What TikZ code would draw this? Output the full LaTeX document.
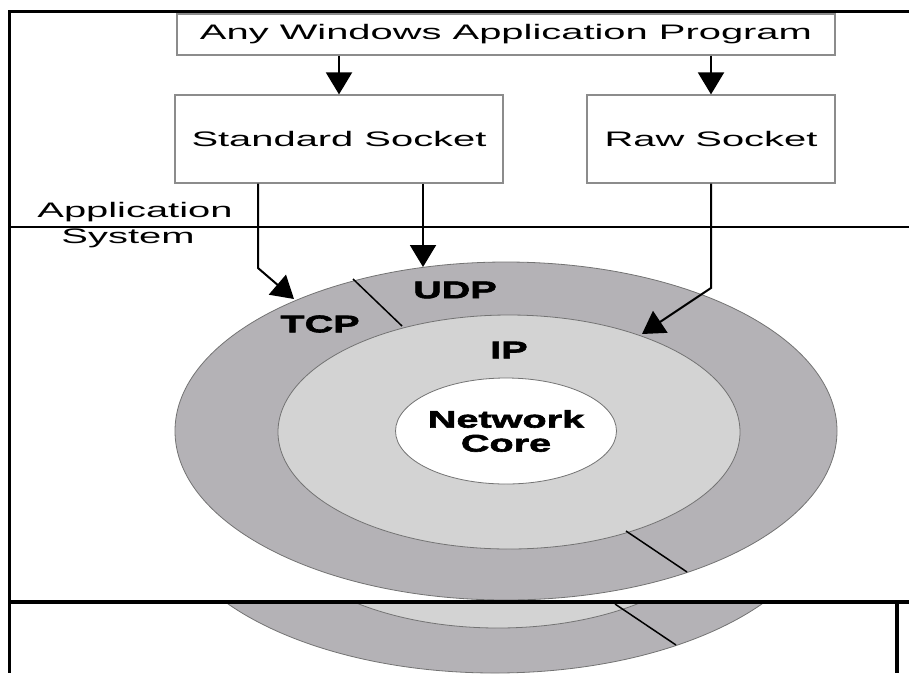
\documentclass[tikz,border=0pt]{standalone}
\usepackage{fontspec}
\setmainfont{Liberation Sans}
\newfontfamily\widefont[FakeStretch=1.9]{Liberation Sans}
\newfontfamily\ringfont[FakeStretch=1.65,FakeBold=2.5]{Liberation Sans}
\usetikzlibrary{shapes.geometric,positioning,arrows.meta}

\definecolor{ringgray}{RGB}{180,178,182}
\definecolor{ipgray}{RGB}{211,211,211}
\definecolor{edgegray}{RGB}{115,115,115}
\definecolor{boxgray}{RGB}{140,140,140}

\newcommand{\boxfont}{\widefont\fontsize{21}{25}\selectfont}
\newcommand{\layerfont}{\ringfont\bfseries\fontsize{24}{24}\selectfont}

\begin{document}
\begin{tikzpicture}[x=1pt,y=-1pt,
	sockbox/.style={draw=boxgray, line width=1.2pt, fill=white, inner sep=0pt, font=\boxfont},
	ring/.style={ellipse, draw=edgegray, line width=0.8pt, inner sep=0pt},
	lbl/.style={font=\layerfont},
	flow/.style={-{Triangle[length=22pt,width=26pt]}, line width=2pt},
	split/.style={line width=1.5pt}]
	\useasboundingbox (0,0) rectangle (909,673);

	% layers
	\node[ring, fill=ringgray, minimum width=662pt, minimum height=338pt] (outer) at (506,431) {};
	\node[ring, fill=ipgray, minimum width=462pt, minimum height=234pt] (ip) at (509,432) {};
	\node[ring, fill=white, minimum width=208pt, minimum height=106pt, lbl, align=center] (core) at (506,431) {Network\\Core};
	\draw[split] (353,279) -- (402,326);
	\draw[split] (626,531) -- (687,572);
	\node[lbl] (tcp) at (320,324) {TCP};
	\node[lbl] (udp) at (455,290) {UDP};
	\node[lbl] (iplbl) at (509,350) {IP};

	% boxes
	\node[sockbox, minimum width=658pt, minimum height=41pt] (app) at (506,34.5) {Any Windows Application Program};
	\node[sockbox, minimum width=328pt, minimum height=88pt] (std) at (339,139) {Standard Socket};
	\node[sockbox, minimum width=248pt, minimum height=88pt] (raw) at (711,139) {Raw Socket};

	\draw[flow] (app.south -| std.north) -- (std.north);
	\draw[flow] (app.south -| raw.north) -- (raw.north);

	\coordinate (tcpbend) at (258,268);
	\coordinate (tcptip) at (294,299);
	\coordinate (udptip) at (423,267);
	\coordinate (rawbend) at (711,288);
	\coordinate (iptip) at (642,334);
	\draw[flow] (std.south -| tcpbend) -- (tcpbend) -- (tcptip);
	\draw[flow] (std.south -| udptip) -- (udptip);
	\draw[flow] (raw.south) -- (rawbend) -- (iptip);

	% frame
	\draw[line width=3pt] (909,11.5) -- (9,11.5) -- (9,673);
	\draw[line width=2pt] (9,227) -- (909,227);
	\node[font=\boxfont, anchor=base] (applbl) at (135,217) {Application};
	\node[font=\boxfont, anchor=base] (syslbl) at (128,243) {System};

	% repeated lower part
	\begin{scope}
		\clip (9,604) rectangle (895,673);
		\begin{scope}[shift={(-11,73)}]
			\filldraw[fill=ringgray, draw=edgegray, line width=0.8pt] (506,431) ellipse [x radius=331pt, y radius=169pt];
			\filldraw[fill=ipgray, draw=edgegray, line width=0.8pt] (509,436) ellipse [x radius=231pt, y radius=119pt];
			\draw[split] (626,531) -- (687,572);
		\end{scope}
	\end{scope}
	\draw[line width=4.5pt] (9,602) -- (909,602);
	\draw[line width=4.5pt] (897,602) -- (897,673);
\end{tikzpicture}
\end{document}
